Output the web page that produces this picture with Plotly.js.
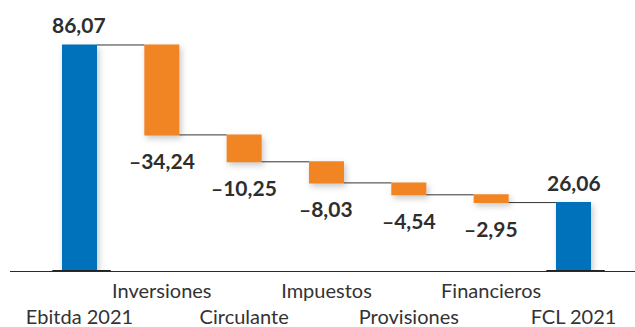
<!DOCTYPE html>
<html>
<head>
<meta charset="utf-8">
<script src="https://cdn.plot.ly/plotly-3.0.1.min.js"></script>
<style>
  html, body { margin: 0; padding: 0; background: #fff; }
  #chart { width: 635px; height: 327px; }
  /* soft shadow under the bars */
  .waterfalllayer .point path { filter: drop-shadow(2px 3px 3px rgba(0,0,0,0.22)); }
</style>
</head>
<body>
<div id="chart"></div>
<script>
// Free cash flow bridge, 2021 (millions)
const categories = ['Ebitda 2021', 'Inversiones', 'Circulante', 'Impuestos', 'Provisiones', 'Financieros', 'FCL 2021'];
const values     = [86.07, -34.24, -10.25, -8.03, -4.54, -2.95, 0];
const measures   = ['absolute', 'relative', 'relative', 'relative', 'relative', 'relative', 'total'];

const BLUE = '#0071BB';
const ORANGE = '#F18423';
const INK = '#2e2e2e';

const fmt = v => (v < 0 ? '\u2013' : '') + Math.abs(v).toFixed(2).replace('.', ',');

// Running level at the end of each bar
const ends = [];
let level = 0;
measures.forEach((m, i) => {
  if (m === 'absolute') level = values[i];
  else if (m === 'relative') level += values[i];
  ends.push(level);
});

// Tick labels alternate between two rows
const tickText = categories.map((c, i) => (i % 2 === 1 ? c : '\u00a0<br>' + c));

const annotations = categories.map((c, i) => {
  const isTotal = measures[i] !== 'relative';
  return {
    x: c, y: ends[i], xref: 'x', yref: 'y',
    text: fmt(isTotal ? ends[i] : values[i]),
    showarrow: false,
    yanchor: 'middle',
    yshift: isTotal ? 20 : -26,
    font: { family: 'Lato, sans-serif', size: 21, color: INK, weight: 700 }
  };
});

// dark foot under the total bars
const shapes = categories.map((c, i) => i).filter(i => measures[i] !== 'relative').map(i => ({
  type: 'line', xref: 'x', yref: 'y',
  x0: i - 0.33, x1: i + 0.38, y0: 0, y1: 0,
  line: { color: '#222', width: 2 }
}));

const trace = {
  type: 'waterfall',
  x: categories,
  y: values,
  measure: measures,
  width: 0.425,
  textinfo: 'none',
  hoverinfo: 'skip',
  decreasing: { marker: { color: ORANGE } },
  increasing: { marker: { color: ORANGE } },
  totals: { marker: { color: BLUE } },
  connector: { line: { color: '#333', width: 1 }, mode: 'between' }
};

const layout = {
  width: 635, height: 327,
  margin: { l: 10, r: 0, t: 0, b: 56 },
  paper_bgcolor: '#fff', plot_bgcolor: '#fff',
  showlegend: false,
  xaxis: {
    type: 'category',
    range: [-0.844, 6.747],
    tickvals: categories,
    ticktext: tickText,
    tickangle: 0,
    ticks: '',
    ticklabelstandoff: 2,
    showgrid: false, zeroline: false,
    showline: true, linecolor: '#2a2a2a', linewidth: 1,
    tickfont: { family: 'Lato, sans-serif', size: 20, color: '#333' },
    fixedrange: true
  },
  yaxis: {
    range: [0, 103.2],
    visible: false,
    showgrid: false, zeroline: false,
    fixedrange: true
  },
  annotations: annotations,
  shapes: shapes
};

Plotly.newPlot('chart', [trace], layout, { displayModeBar: false, staticPlot: true });
</script>
</body>
</html>
